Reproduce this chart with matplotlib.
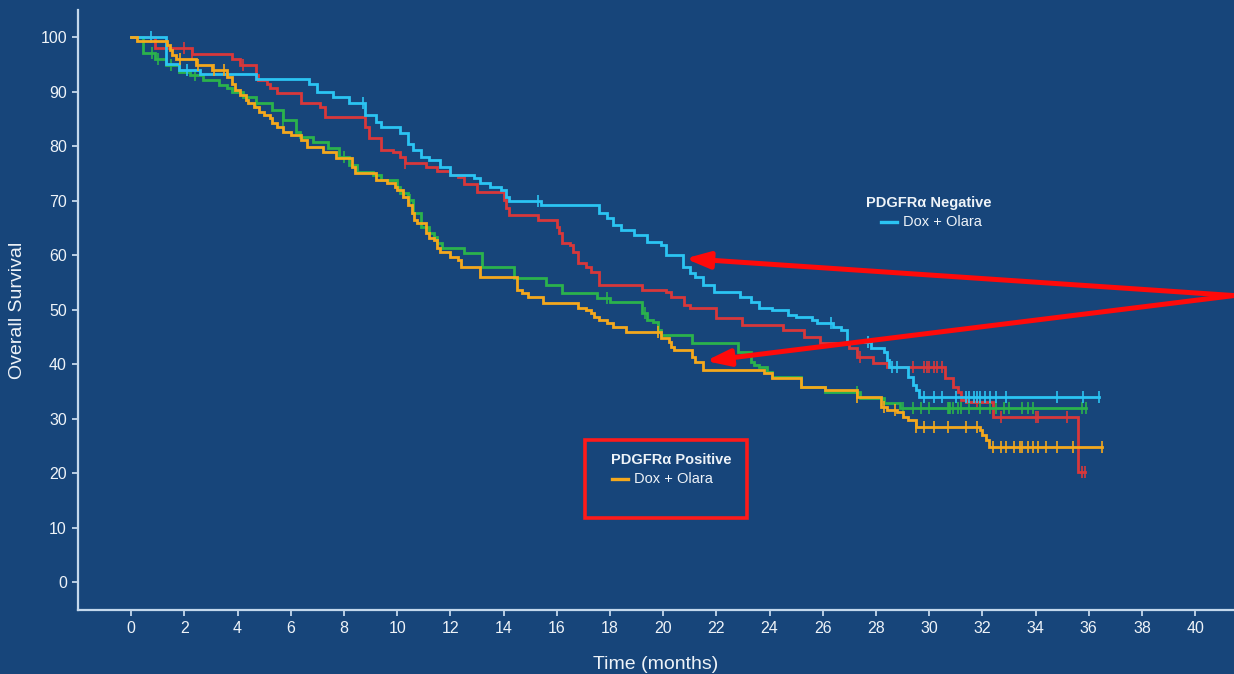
import numpy as np
import matplotlib.pyplot as plt
from matplotlib.lines import Line2D
from matplotlib.patches import Rectangle

plt.rcParams['font.family'] = ['Liberation Sans', 'DejaVu Sans']

# --- data (months, % survival) ---
# PDGFRa negative, Dox + Olara (cyan)
neg_olara_t = [0, 1.3, 1.8, 2.6, 4.7, 6.7, 7.0, 7.6, 8.2, 8.8, 9.2, 9.4, 10.1, 10.4, 10.6,
               10.9, 11.2, 11.6, 12.0, 12.9, 13.1, 13.5, 13.9, 14.1, 14.2, 15.4, 17.6, 17.9,
               18.1, 18.4, 18.9, 19.4, 19.9, 20.1, 20.75, 21.0, 21.2, 21.5, 21.9, 22.9, 23.3,
               23.6, 24.1, 24.7, 25.0, 25.6, 25.8, 26.4, 26.7, 26.9, 27.8, 28.3, 28.4, 28.5,
               29.2, 29.4, 29.5, 29.6, 36.4]
neg_olara_s = [100, 95, 94, 93.3, 92.4, 91.5, 90, 89, 88, 85.7, 84.4, 83.5, 82.4, 80.5, 79.3,
               78, 77.4, 76.1, 74.7, 74.1, 73.2, 72.5, 71.9, 70.6, 70.0, 69.2, 67.7, 66.8,
               65.5, 64.6, 63.7, 62.5, 61.8, 60.0, 57.8, 56.7, 56.0, 54.5, 53.2, 52.3, 51.4,
               50.3, 49.9, 49.0, 48.6, 48.1, 47.5, 46.8, 46.2, 44.0, 43.0, 42.2, 40.7, 39.4,
               37.6, 36.1, 35.2, 34.0, 34.0]
neg_olara_cens = [0.75, 2.1, 8.7, 15.3, 26.3, 27.7, 28.6, 28.8, 29.8, 30.2, 30.5, 31.0, 31.4,
                  31.5, 31.7, 31.8, 31.9, 32.1, 32.3, 32.5, 32.9, 34.8, 35.8, 36.4]

# PDGFRa negative, second arm (red)
neg_dox_t = [0, 0.9, 2.3, 3.8, 4.1, 4.7, 4.75, 5.1, 5.2, 5.5, 6.4, 7.1, 7.3, 8.8, 8.95,
             9.4, 9.85, 10.1, 10.3, 11.1, 11.5, 12.0, 12.3, 12.5, 13.0, 14.0, 14.1, 14.2,
             15.3, 16.0, 16.1, 16.2, 16.5, 16.6, 16.8, 17.1, 17.3, 17.6, 19.2, 20.1, 20.3,
             20.8, 21.0, 22.0, 22.97, 24.5, 25.3, 25.9, 27.0, 27.3, 27.9, 28.4, 30.6, 30.9,
             31.1, 31.2, 31.4, 32.4, 35.6, 35.85]
neg_dox_s = [100, 98.0, 97.0, 96.1, 94.9, 93.0, 92.1, 91.5, 90.6, 89.7, 87.9, 87.2, 85.3,
             83.5, 81.5, 79.3, 78.9, 78.0, 77.0, 76.2, 75.5, 74.8, 74.3, 73.0, 71.6, 70.1,
             68.6, 67.3, 66.4, 65.1, 64.0, 62.2, 61.8, 60.6, 58.5, 57.8, 56.9, 54.5, 53.6,
             53.2, 52.3, 50.8, 50.3, 48.4, 47.2, 46.2, 45.0, 43.9, 42.9, 41.3, 40.2, 39.4,
             37.4, 35.8, 34.9, 33.4, 33.0, 30.3, 20.2, 20.2]
neg_dox_cens = [2.0, 2.3, 4.2, 10.3, 27.4, 29.4, 29.8, 29.9, 30.0, 30.2, 30.3, 30.5, 31.8,
                32.7, 34.0, 34.1, 35.2, 35.75, 35.85]

# PDGFRa positive, second arm (green)
pos_dox_t = [0, 0.45, 0.9, 1.3, 1.8, 2.2, 2.7, 3.3, 3.6, 3.8, 4.2, 4.7, 5.3, 5.7, 6.2,
             6.35, 6.85, 7.4, 7.8, 8.2, 8.5, 9.1, 9.4, 10.0, 10.1, 10.4, 10.6, 10.9, 11.2,
             11.4, 11.5, 11.7, 12.5, 13.2, 14.4, 15.6, 16.2, 17.5, 18.0, 19.2, 19.4, 19.6,
             19.8, 19.9, 21.1, 22.8, 23.3, 23.4, 23.6, 23.9, 24.1, 25.2, 26.1, 27.4, 28.3,
             28.9, 35.9]
pos_dox_s = [100, 97.2, 96.1, 94.9, 93.6, 93.0, 92.1, 91.2, 90.6, 89.9, 89.0, 87.9, 86.6,
             84.8, 82.6, 81.7, 80.7, 79.6, 78.0, 76.5, 75.2, 74.7, 73.8, 72.5, 71.4, 70.1,
             67.7, 65.1, 64.0, 63.3, 62.2, 61.3, 60.4, 57.8, 55.8, 54.5, 53.0, 52.1, 51.4,
             49.4, 48.1, 47.7, 46.2, 45.3, 43.9, 42.2, 40.4, 39.8, 39.4, 38.5, 37.6, 35.8,
             34.9, 33.8, 32.8, 31.9, 31.9]
pos_dox_cens = [0.8, 1.0, 1.5, 2.4, 4.7, 5.7, 8.0, 10.5, 17.9, 19.3, 19.8, 27.3, 29.0, 29.4,
                29.7, 30.0, 30.7, 30.75, 30.8, 30.9, 31.1, 31.2, 31.5, 31.9, 32.3, 32.5,
                32.8, 33.0, 33.5, 33.7, 33.9, 35.75, 35.9]

# PDGFRa positive, Dox + Olara (orange)
pos_olara_t = [0, 0.2, 1.35, 1.45, 1.55, 1.7, 2.45, 3.05, 3.6, 3.8, 3.9, 4.1, 4.3, 4.4, 4.6,
               4.8, 5.0, 5.2, 5.3, 5.5, 5.7, 6.0, 6.4, 6.6, 7.2, 7.7, 8.3, 8.4, 9.2, 9.6,
               9.9, 10.0, 10.2, 10.4, 10.55, 10.65, 10.75, 11.1, 11.2, 11.4, 11.5, 11.6,
               12.0, 12.3, 12.4, 13.1, 14.5, 14.7, 14.9, 15.5, 16.8, 17.1, 17.3, 17.4, 17.6,
               17.9, 18.1, 18.6, 19.9, 20.2, 20.3, 20.4, 21.1, 21.2, 21.5, 23.8, 24.1, 25.2,
               26.1, 27.3, 28.2, 28.4, 28.8, 29.0, 29.2, 29.5, 31.9, 32.0, 32.15, 32.25, 36.5]
pos_olara_s = [100, 99.4, 98.5, 97.6, 96.7, 96.1, 94.9, 93.9, 92.7, 91.5, 90.3, 89.4, 88.4,
               87.9, 87.2, 86.2, 85.7, 85.1, 84.2, 83.5, 82.6, 82.0, 81.1, 79.8, 78.9, 77.8,
               76.1, 75.0, 73.8, 73.2, 72.5, 71.9, 70.6, 69.2, 67.7, 66.4, 65.9, 64.0, 63.1,
               62.8, 61.3, 60.6, 59.6, 59.1, 57.8, 56.0, 53.6, 53.0, 52.3, 51.2, 50.3, 49.9,
               49.4, 48.6, 48.1, 47.5, 46.8, 45.9, 44.8, 44.0, 43.1, 42.6, 41.3, 40.4, 39.0,
               38.3, 37.4, 35.8, 35.2, 33.9, 32.1, 31.6, 31.2, 30.3, 29.7, 28.4, 27.9, 27.0,
               26.1, 24.8, 24.8]
pos_olara_cens = [1.85, 2.5, 3.1, 3.5, 19.8, 27.3, 28.3, 28.7, 29.5, 29.8, 30.2, 30.7, 31.4,
                  31.8, 32.4, 32.7, 32.9, 33.2, 33.4, 33.5, 33.7, 33.9, 34.1, 34.4, 34.8,
                  35.4, 36.5]

x_ticks = list(range(0, 41, 2))
y_ticks = list(range(0, 101, 10))

BG = "#17457a"
FG = "#eef3f8"
AXIS = "#c4d8ec"
CYAN = "#2bc4f3"
RED = "#d8383b"
GREEN = "#2bb24c"
ORANGE = "#f4a81d"
ARROW = "#ff0a0a"

W, H = 1234, 674


def fpx(x, y):
    # pixel position (from top-left) -> figure fraction
    return x / W, 1 - y / H


def surv_at(t_list, s_list, times):
    idx = np.searchsorted(np.array(t_list), np.array(times), side="right") - 1
    return np.array(s_list)[np.clip(idx, 0, len(s_list) - 1)]


fig = plt.figure(figsize=(W / 100, H / 100), dpi=100, facecolor=BG)
ax = fig.add_axes([78 / W, 64 / H, 1156 / W, 600 / H])
ax.set_facecolor(BG)

curves = [
    (neg_dox_t, neg_dox_s, neg_dox_cens, RED),
    (pos_dox_t, pos_dox_s, pos_dox_cens, GREEN),
    (neg_olara_t, neg_olara_s, neg_olara_cens, CYAN),
    (pos_olara_t, pos_olara_s, pos_olara_cens, ORANGE),
]
for t, s, cens, col in curves:
    ax.step(t, s, where="post", color=col, lw=2.0, solid_joinstyle="miter")
    ax.plot(cens, surv_at(t, s, cens), linestyle="none", marker="|",
            markersize=8, markeredgewidth=1.2, color=col)

ax.set_xlim(-2.0, 41.46)
ax.set_ylim(-5.1, 105)
ax.set_xticks(x_ticks)
ax.set_yticks(y_ticks)
ax.tick_params(colors=AXIS, labelcolor=FG, labelsize=11.5, length=4, width=1.3, pad=4)
for side in ["top", "right"]:
    ax.spines[side].set_visible(False)
for side in ["left", "bottom"]:
    ax.spines[side].set_color(AXIS)
    ax.spines[side].set_linewidth(1.6)

ax.set_xlabel("Time (months)", color=FG, fontsize=14, labelpad=14)
ax.set_ylabel("Overall Survival", color=FG, fontsize=14, labelpad=10)

# red arrows coming in from the right edge
arrow_kw = dict(arrowstyle="-|>,head_length=1.3,head_width=0.45", color=ARROW, lw=3.6,
                shrinkA=0, shrinkB=0, mutation_scale=11)
ax.annotate("", xy=(20.83, 59.4), xytext=(41.46, 52.6), arrowprops=arrow_kw,
            annotation_clip=False)
ax.annotate("", xy=(21.6, 40.6), xytext=(41.46, 52.6), arrowprops=arrow_kw,
            annotation_clip=False)

# legend labels
fig.text(*fpx(866, 203), "PDGFRα Negative", color=FG, fontsize=10.5, fontweight="bold",
         va="center", ha="left")
x0, y0 = fpx(881, 222)
x1, _ = fpx(897, 222)
fig.add_artist(Line2D([x0, x1], [y0, y0], color=CYAN, lw=2.4, transform=fig.transFigure))
fig.text(*fpx(903, 222), "Dox + Olara", color=FG, fontsize=10.5, va="center", ha="left")

fig.text(*fpx(611, 460), "PDGFRα Positive", color=FG, fontsize=10.5, fontweight="bold",
         va="center", ha="left")
x0, y0 = fpx(612, 479)
x1, _ = fpx(628, 479)
fig.add_artist(Line2D([x0, x1], [y0, y0], color=ORANGE, lw=2.4, transform=fig.transFigure))
fig.text(*fpx(634, 479), "Dox + Olara", color=FG, fontsize=10.5, va="center", ha="left")

fig.add_artist(Rectangle(fpx(585, 518), 162 / W, 78 / H, fill=False, ec="#ff1a1a", lw=2.6,
                         transform=fig.transFigure))

fig.savefig("out.png", dpi=100, facecolor=BG)
